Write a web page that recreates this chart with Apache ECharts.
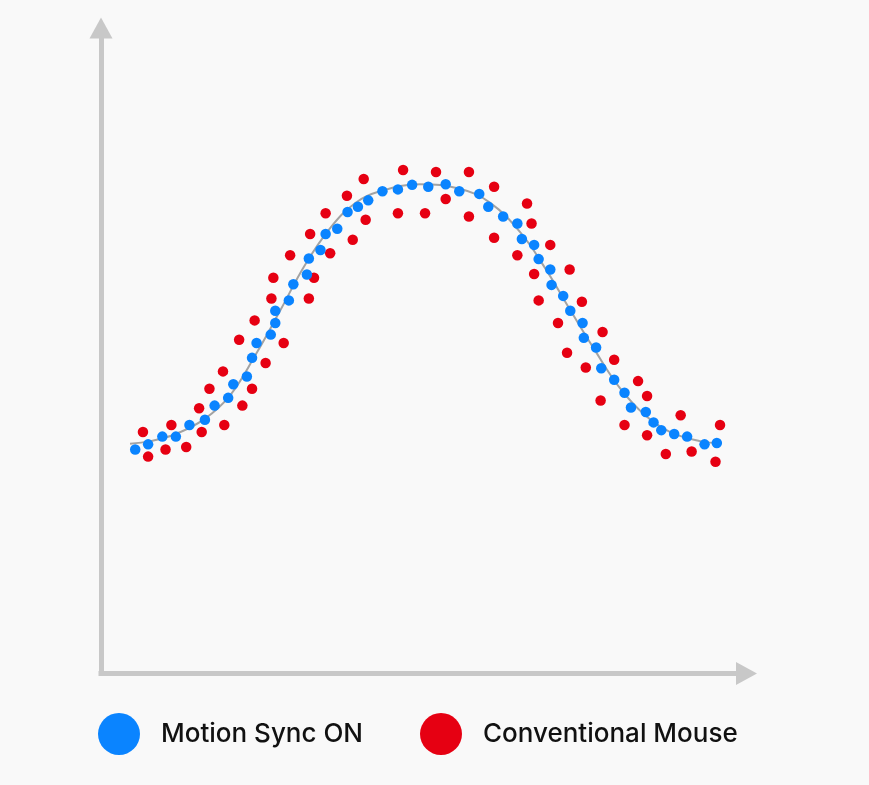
<!DOCTYPE html>
<html>
<head>
<meta charset="utf-8">
<script src="https://cdn.jsdelivr.net/npm/echarts@6/dist/echarts.min.js"></script>
<style>
html,body{margin:0;padding:0;background:#f9f9f9;}
#chart{width:869px;height:785px;}
</style>
</head>
<body>
<div id="chart"></div>
<script>
var seriesNames = ['Motion Sync ON', 'Conventional Mouse'];

var motionSyncX = [5.3,7.3,9.5,11.6,13.7,16.1,17.6,19.7,20.5,22.6,23.4,24.1,26.3,27.0,27.0,29.1,29.8,31.9,32.2,34.0,34.8,36.6,38.2,39.8,41.4,43.6,46.0,48.2,50.7,53.4,55.5,58.6,60.0,62.3,64.5,65.2,67.1,67.8,69.6,69.8,71.6,72.7,74.6,74.8,76.7,77.5,79.5,81.1,82.1,84.4,85.6,86.8,88.8,90.8,93.5,95.4];
var motionSyncY = [34.7,35.5,36.7,36.7,38.5,39.3,41.5,42.7,44.8,46.0,48.9,51.2,52.5,54.3,56.2,57.8,60.3,61.8,64.3,65.6,68.1,68.9,71.5,72.3,73.3,74.7,75.0,75.7,75.4,75.8,74.7,74.3,72.3,70.8,69.7,67.3,66.4,64.2,62.6,60.2,58.5,56.2,54.3,52.0,50.5,47.3,45.5,43.5,41.2,40.5,38.9,37.7,37.1,36.7,35.5,35.7];

var conventionalX = [6.5,7.3,10.0,10.9,13.2,15.6,15.2,16.8,19.1,18.9,21.9,21.4,23.4,23.8,25.5,26.4,26.7,28.3,29.3,32.2,33.0,32.4,35.5,34.8,39.0,38.1,41.0,40.7,46.0,46.8,50.2,51.9,53.4,57.0,57.0,60.9,60.9,66.0,66.7,64.5,69.6,67.1,72.6,67.8,74.5,70.8,77.7,72.2,75.1,79.5,77.4,83.2,84.6,81.1,84.6,89.8,87.5,91.5,95.9,95.2];
var conventionalY = [37.4,33.6,34.7,38.5,35.1,37.4,41.1,44.1,38.5,46.8,41.5,51.7,44.1,54.7,48.1,58.1,61.3,51.2,64.8,58.1,61.3,68.1,65.1,71.3,67.2,74.0,70.3,76.6,71.3,78.0,71.3,77.7,73.5,77.7,70.8,75.4,67.5,72.8,69.7,64.8,66.4,61.9,62.6,57.8,57.6,54.3,52.9,49.7,47.4,48.6,42.3,45.3,43.0,38.5,36.9,40.0,34.0,34.4,38.5,32.8];

var trendX = [4.5,7.6,11.6,16.0,20.0,23.9,27.8,31.6,35.5,39.4,43.2,49.4,55.6,60.3,64.9,68.8,72.7,76.5,80.4,84.3,88.2,92.8,96.2];
var trendY = [35.6,36.0,37.1,39.4,43.1,49.3,56.3,63.3,69.0,72.9,74.7,75.8,75.1,72.9,68.4,62.8,56.3,50.1,44.2,40.0,37.4,36.0,35.7];

function zip(xs, ys) { return xs.map(function (x, i) { return [x, ys[i]]; }); }

var axisColor = '#c8c8c8';
var legendText = {fontSize: 26, color: '#111', fontFamily: 'Inter', fontWeight: 500, padding: [0, 0, 0, 16]};
var chart = echarts.init(document.getElementById('chart'), null, {renderer: 'canvas'});
chart.setOption({
  backgroundColor: '#f9f9f9',
  animation: false,
  grid: {left: 101, right: 122.5, top: 28, bottom: 111.5},
  xAxis: {
    type: 'value', min: 0, max: 100,
    splitLine: {show: false}, axisTick: {show: false}, axisLabel: {show: false},
    axisLine: {show: true, symbol: ['none', 'triangle'], symbolSize: [23, 21],
      lineStyle: {color: axisColor, width: 5, cap: 'square'}}
  },
  yAxis: {
    type: 'value', min: 0, max: 100,
    splitLine: {show: false}, axisTick: {show: false}, axisLabel: {show: false},
    axisLine: {show: true, symbol: ['none', 'triangle'], symbolSize: [23, 21],
      lineStyle: {color: axisColor, width: 5, cap: 'square'}}
  },
  legend: [
    {
      data: [seriesNames[0]], left: 93, top: 708, itemWidth: 42, itemHeight: 42, icon: 'circle',
      textStyle: legendText
    },
    {
      data: [seriesNames[1]], left: 415, top: 708, itemWidth: 42, itemHeight: 42, icon: 'circle',
      textStyle: legendText
    }
  ],
  series: [
    {
      name: 'trend', type: 'line', data: zip(trendX, trendY), smooth: 0.4, showSymbol: false,
      lineStyle: {color: '#a3a3a3', width: 2}, z: 1, silent: true
    },
    {
      name: seriesNames[1], type: 'scatter', data: zip(conventionalX, conventionalY),
      symbolSize: 10.5, itemStyle: {color: '#e60012', opacity: 1}, z: 2
    },
    {
      name: seriesNames[0], type: 'scatter', data: zip(motionSyncX, motionSyncY),
      symbolSize: 10.5, itemStyle: {color: '#0a84ff', opacity: 1}, z: 3
    }
  ]
});
</script>
</body>
</html>
